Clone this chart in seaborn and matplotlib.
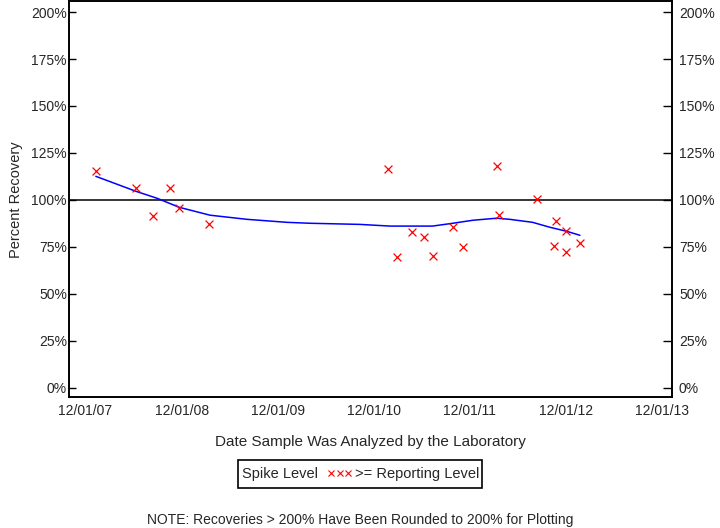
import pandas as pd
import matplotlib
matplotlib.use('Agg')
import matplotlib.pyplot as plt
import matplotlib.dates as mdates
from matplotlib.lines import Line2D
from matplotlib.patches import Rectangle
import seaborn as sns

# sample dates and percent recoveries
sample_dates = ['2008-01-10', '2008-06-12', '2008-08-13', '2008-10-16', '2008-11-23',
                '2009-03-16', '2011-01-24', '2011-02-26', '2011-04-25', '2011-06-10',
                '2011-07-13', '2011-09-28', '2011-11-04', '2012-03-13', '2012-03-23',
                '2012-08-13', '2012-10-25', '2012-11-30', '2012-10-17', '2012-12-02',
                '2013-01-24']
recovery = [115.2, 106.5, 91.6, 106.5, 95.6, 87.3, 116.6, 69.6, 82.6, 80.2,
            70.3, 85.5, 75.1, 118.2, 92.1, 100.6, 88.9, 83.6, 75.6, 72.4, 77.2]

# smoothed trend line
trend_dates = ['2008-01-10', '2008-06-11', '2008-08-30', '2008-11-22', '2009-03-19',
               '2009-08-06', '2010-01-05', '2010-04-03', '2010-10-09', '2011-02-01',
               '2011-07-13', '2011-09-28', '2011-12-13', '2012-03-13', '2012-05-01',
               '2012-07-27', '2012-09-30', '2012-12-04', '2013-01-23']
trend = [112.5, 104.5, 100.8, 96.0, 91.8, 89.6, 88.0, 87.5, 86.9, 86.0,
         86.0, 87.5, 89.1, 90.2, 89.6, 88.0, 85.4, 83.2, 81.1]

y_ticks = [0, 25, 50, 75, 100, 125, 150, 175, 200]
y_labels = [f'{v}%' for v in y_ticks]

df = pd.DataFrame({'date': pd.to_datetime(sample_dates), 'pct': recovery})
tr = pd.DataFrame({'date': pd.to_datetime(trend_dates), 'pct': trend})

sns.set_style('white')
plt.rcParams['font.family'] = ['Liberation Sans', 'DejaVu Sans']

fig = plt.figure(figsize=(7.2, 5.28), dpi=100)
ax = fig.add_axes([69/720, 1-397/528, 603/720, 396/528])

ax.axhline(100, color='black', lw=1.1, zorder=1)
sns.lineplot(data=tr, x='date', y='pct', ax=ax, color='blue', lw=1.1, sort=False, zorder=2)
sns.scatterplot(data=df, x='date', y='pct', ax=ax, marker='x', color='red', s=32,
                linewidth=0.9, zorder=3)

ylim = (-5.05, 205.9)
ax.set_ylim(*ylim)
ax.set_xlim(pd.Timestamp('2007-09-30'), pd.Timestamp('2014-01-08'))
ax.set_yticks(y_ticks)
ax.set_yticklabels(y_labels)

# right-hand axis with the same percent scale
ax2 = ax.twinx()
ax2.set_ylim(*ylim)
ax2.set_yticks(y_ticks)
ax2.set_yticklabels(y_labels)
ax2.tick_params(axis='y', direction='in', length=6.5, width=1, labelsize=10, pad=5, color='black')

ax.xaxis.set_major_locator(mdates.MonthLocator(bymonth=12, bymonthday=1))
ax.xaxis.set_minor_locator(mdates.MonthLocator(bymonth=6, bymonthday=1))
ax.xaxis.set_major_formatter(mdates.DateFormatter('%m/%d/%y'))

ax.tick_params(axis='x', which='major', direction='in', length=5.5, width=1, labelsize=10, pad=5, color='black')
ax.tick_params(axis='x', which='minor', direction='in', length=3.5, width=1, color='black')
ax.tick_params(axis='y', direction='in', length=5, width=1, labelsize=10, left=True, pad=1.5, color='black')

for a in (ax, ax2):
    for s in a.spines.values():
        s.set_color('black')
        s.set_linewidth(1.2)

ax.set_xlabel('Date Sample Was Analyzed by the Laboratory', fontsize=11, labelpad=12.5)
ax.set_ylabel('')
ax2.set_ylabel('')
fig.text(16/720, 1-200/528, 'Percent Recovery', rotation=90, ha='center', va='center', fontsize=10.5)

# legend box
fig.patches.append(Rectangle((237.5/720, 1-487.5/528), 244/720, 28/528, transform=fig.transFigure,
                             facecolor='white', edgecolor='black', lw=1.2))
fig.text(242/720, 1-474/528, 'Spike Level', ha='left', va='center', fontsize=10.5)
fig.lines.append(Line2D([331/720, 339.5/720, 348/720], [1-472.5/528]*3, transform=fig.transFigure,
                        marker='x', color='red', linestyle='none', markersize=4.5, mew=0.8))
fig.text(355/720, 1-474/528, '>= Reporting Level', ha='left', va='center', fontsize=10.5)

fig.text(360/720, 1-520/528, 'NOTE: Recoveries > 200% Have Been Rounded to 200% for Plotting',
         ha='center', va='center', fontsize=10)

fig.savefig('out.png', dpi=100)
